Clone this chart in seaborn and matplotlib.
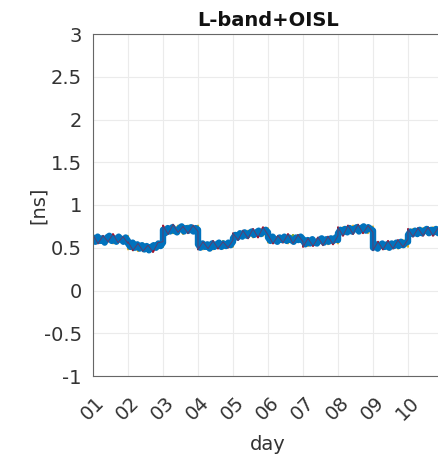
import numpy as np
import pandas as pd
import matplotlib
matplotlib.use("Agg")
import matplotlib.pyplot as plt
import seaborn as sns

days = ["01", "02", "03", "04", "05", "06", "07", "08", "09", "10"]
yticks = [-1, -0.5, 0, 0.5, 1, 1.5, 2, 2.5, 3]
ytick_labels = ["-1", "-0.5", "0", "0.5", "1", "1.5", "2", "2.5", "3"]

# main (blue) series, 16 samples per day
blue = [
    [0.62,0.57,0.63,0.58,0.61,0.56,0.62,0.64,0.58,0.61,0.57,0.63,0.60,0.57,0.62,0.58],
    [0.55,0.51,0.56,0.50,0.54,0.49,0.53,0.48,0.52,0.47,0.51,0.53,0.50,0.55,0.52,0.56],
    [0.71,0.67,0.73,0.69,0.74,0.70,0.68,0.73,0.75,0.69,0.73,0.70,0.74,0.69,0.73,0.71],
    [0.54,0.50,0.55,0.51,0.54,0.49,0.55,0.51,0.54,0.56,0.51,0.55,0.52,0.56,0.53,0.57],
    [0.61,0.65,0.62,0.67,0.63,0.68,0.64,0.67,0.69,0.65,0.68,0.70,0.66,0.69,0.71,0.68],
    [0.62,0.58,0.63,0.59,0.57,0.62,0.59,0.63,0.58,0.62,0.59,0.57,0.62,0.59,0.63,0.60],
    [0.58,0.54,0.59,0.55,0.60,0.56,0.55,0.59,0.61,0.56,0.60,0.57,0.61,0.58,0.62,0.59],
    [0.67,0.71,0.68,0.72,0.68,0.73,0.69,0.72,0.74,0.69,0.73,0.75,0.70,0.74,0.72,0.70],
    [0.50,0.54,0.49,0.53,0.55,0.51,0.54,0.50,0.55,0.52,0.56,0.52,0.57,0.53,0.56,0.57],
    [0.65,0.69,0.66,0.70,0.66,0.71,0.67,0.70,0.72,0.67,0.71,0.68,0.72,0.67,0.71,0.69],
]
red = [
    [0.65,0.55,0.64,0.57,0.66,0.56,0.63,0.55],
    [0.57,0.47,0.55,0.46,0.53,0.45,0.56,0.57],
    [0.76,0.66,0.77,0.68,0.75,0.67,0.76,0.69],
    [0.48,0.57,0.49,0.58,0.49,0.57,0.50,0.59],
    [0.67,0.59,0.70,0.61,0.72,0.62,0.74,0.65],
    [0.65,0.55,0.64,0.56,0.66,0.55,0.65,0.57],
    [0.51,0.61,0.52,0.62,0.53,0.63,0.54,0.64],
    [0.74,0.64,0.76,0.66,0.77,0.67,0.76,0.68],
    [0.47,0.57,0.48,0.58,0.49,0.59,0.51,0.60],
    [0.72,0.63,0.73,0.64,0.74,0.64,0.73,0.66],
]
yellow = [
    [0.55,0.64,0.56,0.65,0.55,0.63,0.56,0.64],
    [0.48,0.57,0.46,0.55,0.45,0.54,0.49,0.57],
    [0.66,0.75,0.67,0.76,0.66,0.74,0.68,0.76],
    [0.57,0.48,0.56,0.48,0.57,0.49,0.58,0.51],
    [0.59,0.68,0.61,0.70,0.62,0.71,0.64,0.73],
    [0.56,0.65,0.56,0.64,0.55,0.65,0.57,0.64],
    [0.61,0.52,0.60,0.53,0.62,0.54,0.63,0.55],
    [0.65,0.74,0.66,0.76,0.67,0.77,0.67,0.75],
    [0.56,0.47,0.56,0.48,0.57,0.49,0.59,0.51],
    [0.63,0.72,0.64,0.73,0.65,0.74,0.65,0.73],
]
green = [
    [0.58,0.65,0.56,0.63,0.57,0.64,0.58,0.63],
    [0.55,0.47,0.54,0.46,0.52,0.47,0.55,0.51],
    [0.68,0.75,0.67,0.74,0.68,0.76,0.69,0.75],
    [0.50,0.57,0.49,0.56,0.50,0.58,0.51,0.57],
    [0.66,0.60,0.68,0.62,0.70,0.63,0.72,0.66],
    [0.58,0.64,0.57,0.63,0.58,0.65,0.57,0.63],
    [0.55,0.61,0.54,0.60,0.56,0.62,0.56,0.61],
    [0.72,0.66,0.73,0.67,0.75,0.68,0.76,0.69],
    [0.50,0.56,0.49,0.57,0.51,0.58,0.52,0.57],
    [0.69,0.64,0.71,0.65,0.72,0.66,0.72,0.67],
]

def to_frame(per_day, name):
    xs, vs = [], []
    for d, vals in enumerate(per_day):
        n = len(vals)
        for i, v in enumerate(vals):
            xs.append(d + i / (n - 1))
            vs.append(v)
    return pd.DataFrame({"x": xs, "value": vs, "series": name})

sns.set_theme(style="white")
plt.rcParams["font.family"] = ["DejaVu Sans"]
plt.rcParams["axes.unicode_minus"] = False

TXT = "#333333"
fig = plt.figure(figsize=(4.38, 4.55), dpi=100)
ax = fig.add_axes([93/438, 79/455, 350/438, 342/455])

fringe = pd.concat([to_frame(yellow, "yellow"), to_frame(green, "green"), to_frame(red, "red")])
palette = {"yellow": "#EDB120", "red": "#A2142F", "green": "#77AC30"}
sns.lineplot(data=fringe, x="x", y="value", hue="series", palette=palette,
             estimator=None, sort=False, lw=1.4, legend=False, ax=ax)
sns.lineplot(data=to_frame(blue, "blue"), x="x", y="value", color="#0072BD",
             estimator=None, sort=False, lw=4.6, legend=False, ax=ax)
sns.lineplot(data=to_frame(red, "red"), x="x", y="value", color="#A2142F",
             estimator=None, sort=False, lw=0.7, alpha=0.55, legend=False, ax=ax)

ax.set_xlim(0, 10)
ax.set_ylim(-1, 3)
ax.set_xticks(range(len(days)))
ax.set_xticklabels(days, rotation=45, ha="center", fontsize=14, color=TXT)
ax.set_yticks(yticks)
ax.set_yticklabels(ytick_labels, fontsize=14, color=TXT)
ax.grid(True, color="#ebebeb", lw=0.8)
ax.set_axisbelow(True)
for s in ax.spines.values():
    s.set_visible(True)
    s.set_color("#666666")
    s.set_linewidth(0.8)
ax.tick_params(axis="both", direction="in", length=3, width=0.6, color="#666666")
ax.tick_params(axis="x", pad=12)
ax.tick_params(axis="y", pad=8)
ax.set_xlabel("day", fontsize=14, color=TXT, labelpad=8)
ax.set_ylabel("[ns]", fontsize=14, color=TXT, labelpad=-3)
ax.set_title("L-band+OISL", fontsize=14, fontweight="bold", color="#111111", pad=6)

fig.savefig("out.png", dpi=100)
